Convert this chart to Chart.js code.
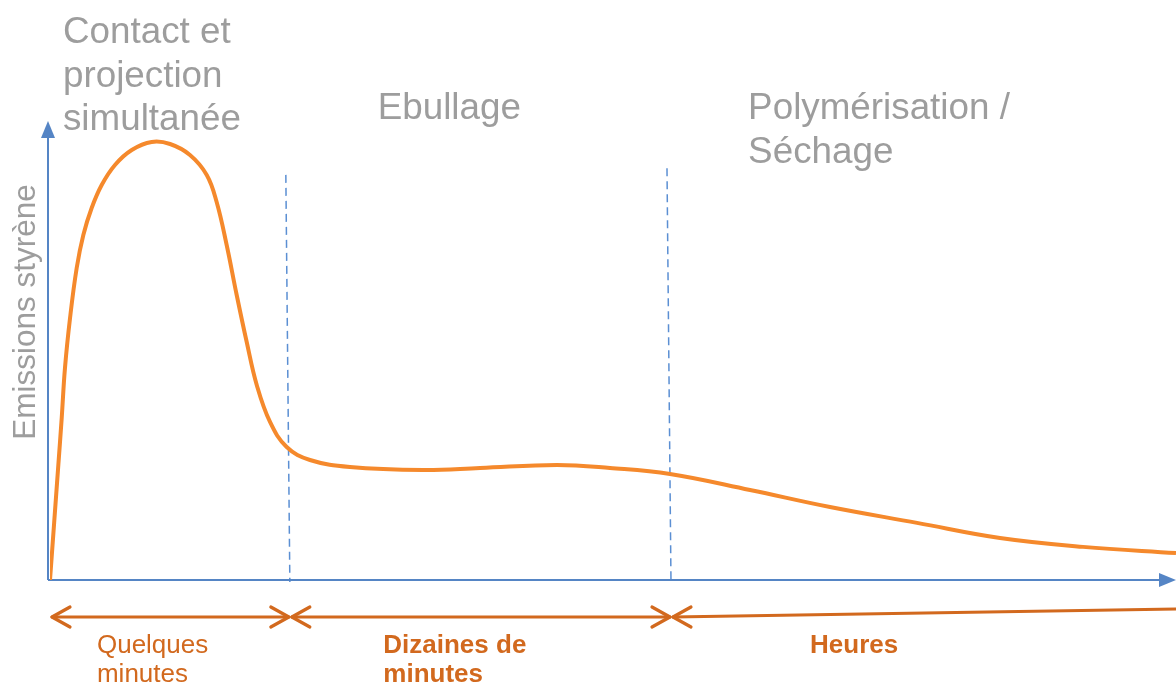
<!DOCTYPE html>
<html lang="fr">
<head>
<meta charset="utf-8">
<title>Emissions styrène</title>
<script src="https://cdn.jsdelivr.net/npm/chart.js@4"></script>
<style>
  html, body { margin: 0; padding: 0; background: #ffffff; }
  #emissionsChart { display: block; }
</style>
</head>
<body>
<canvas id="emissionsChart" width="1176" height="686"></canvas>
<script>
// Temps (unités arbitraires, 0..100) et émissions de styrène (0..100)
const timeValues = [0, 0.74, 1.04, 1.33, 1.78, 2.37, 2.96, 3.70, 4.59, 5.77, 7.26, 9.03, 10.66, 12.43, 13.92, 14.80, 15.69, 16.58, 17.47, 18.36, 19.54, 21.02, 23.09, 26.64, 33.13, 38.19, 45.03, 49.73, 55.06, 62.17, 69.27, 77.0, 84.37, 91.74, 100];
const emissionValues = [0, 23.96, 33.75, 44.17, 54.58, 65.0, 71.88, 77.5, 82.29, 86.46, 89.58, 91.25, 90.83, 88.54, 84.38, 78.75, 69.79, 59.38, 49.58, 40.63, 32.92, 27.71, 25.0, 23.54, 22.92, 23.33, 23.96, 23.33, 22.08, 18.75, 15.2, 11.9, 8.75, 6.9, 5.6];

// Limites des phases et hauteur des pointillés
const phaseBounds = [0, 21.3, 55.15, 100];
const dividerTops = [84.4, 85.8];

const phaseNames = [['Contact et', 'projection', 'simultanée'], ['Ebullage'], ['Polymérisation /', 'Séchage']];
const durationLabels = [['Quelques', 'minutes'], ['Dizaines de', 'minutes'], ['Heures']];
const yAxisTitle = 'Emissions styrène';

const AXIS_BLUE = '#5585c5';
const DASH_BLUE = '#5b8fd3';
const CURVE_ORANGE = '#f5892c';
const DARK_ORANGE = '#d2691e';
const GREY = '#9d9d9d';
const FONT = '"Liberation Sans", Arial, sans-serif';

/**
 * Axes with arrow heads and dashed phase dividers, drawn under the curve.
 */
const axesPlugin = {
    id: 'axesPlugin',
    beforeDatasetsDraw(chart) {
        const { ctx, chartArea, scales } = chart;
        const x0 = chartArea.left - 2;
        const y0 = chartArea.bottom;
        ctx.save();

        // dashed dividers
        ctx.strokeStyle = DASH_BLUE;
        ctx.lineWidth = 1.5;
        ctx.setLineDash([8, 5]);
        phaseBounds.slice(1, 3).forEach((b, i) => {
            const px = scales.x.getPixelForValue(b);
            ctx.beginPath();
            ctx.moveTo(px - 4, scales.y.getPixelForValue(dividerTops[i]));
            ctx.lineTo(px, y0 + 2);
            ctx.stroke();
        });
        ctx.setLineDash([]);

        // axes
        ctx.strokeStyle = AXIS_BLUE;
        ctx.fillStyle = AXIS_BLUE;
        ctx.lineWidth = 2;
        ctx.beginPath();
        ctx.moveTo(x0, y0);
        ctx.lineTo(x0, 136);
        ctx.moveTo(x0, y0);
        ctx.lineTo(chart.width - 14, y0);
        ctx.stroke();

        ctx.beginPath();
        ctx.moveTo(x0, 121);
        ctx.lineTo(x0 - 7, 138);
        ctx.lineTo(x0 + 7, 138);
        ctx.closePath();
        ctx.fill();

        ctx.beginPath();
        ctx.moveTo(chart.width, y0);
        ctx.lineTo(chart.width - 17, y0 - 7);
        ctx.lineTo(chart.width - 17, y0 + 7);
        ctx.closePath();
        ctx.fill();
        ctx.restore();
    }
};

/**
 * Phase titles, axis title and duration arrows.
 */
const labelsPlugin = {
    id: 'labelsPlugin',
    afterDraw(chart) {
        const { ctx, scales } = chart;
        ctx.save();

        // phase titles
        ctx.fillStyle = GREY;
        ctx.font = '36.8px ' + FONT;
        ctx.textBaseline = 'alphabetic';
        const titleX = [1.15, 29.1, 62.0];
        const titleY = [43, 119, 119];
        phaseNames.forEach((lines, i) => {
            lines.forEach((line, j) => {
                ctx.fillText(line, scales.x.getPixelForValue(titleX[i]), titleY[i] + j * 43.5);
            });
        });

        // y axis title
        ctx.save();
        ctx.font = '31.5px ' + FONT;
        ctx.textAlign = 'center';
        ctx.translate(35, 312);
        ctx.rotate(-Math.PI / 2);
        ctx.fillText(yAxisTitle, 0, 0);
        ctx.restore();

        // duration arrows
        ctx.strokeStyle = DARK_ORANGE;
        ctx.lineWidth = 3.2;
        ctx.lineCap = 'round';
        ctx.lineJoin = 'round';
        const ay = 617;
        const head = (tipX, tipY, dir) => {
            ctx.beginPath();
            ctx.moveTo(tipX + dir * 18, tipY - 10);
            ctx.lineTo(tipX, tipY);
            ctx.lineTo(tipX + dir * 18, tipY + 10);
            ctx.stroke();
        };
        for (let i = 0; i < 3; i++) {
            const left = scales.x.getPixelForValue(phaseBounds[i]) + 2;
            const right = i < 2 ? scales.x.getPixelForValue(phaseBounds[i + 1]) - 1 : chart.width;
            const endY = i < 2 ? ay : ay - 8;
            ctx.beginPath();
            ctx.moveTo(left, ay);
            ctx.lineTo(right, endY);
            ctx.stroke();
            head(left, ay, 1);
            if (i < 2) head(right, ay, -1);
        }

        // duration labels
        ctx.fillStyle = DARK_ORANGE;
        const labelX = [4.17, 29.6, 67.5];
        durationLabels.forEach((lines, i) => {
            ctx.font = (i === 0 ? '' : 'bold ') + '26px ' + FONT;
            lines.forEach((line, j) => {
                ctx.fillText(line, scales.x.getPixelForValue(labelX[i]), 653 + j * 29);
            });
        });
        ctx.restore();
    }
};

function renderEmissionsChart() {
    const ctx = document.getElementById('emissionsChart');
    if (!ctx) return;
    new Chart(ctx, {
        type: 'line',
        data: {
            datasets: [{
                label: yAxisTitle,
                data: timeValues.map((t, i) => ({ x: t, y: emissionValues[i] })),
                borderColor: CURVE_ORANGE,
                borderWidth: 4,
                pointRadius: 0,
                fill: false,
                tension: 0.4
            }]
        },
        options: {
            responsive: false,
            animation: false,
            layout: { padding: { left: 50, right: 0, top: 100, bottom: 106 } },
            plugins: {
                legend: { display: false },
                tooltip: { enabled: false }
            },
            scales: {
                x: { type: 'linear', min: 0, max: 100, display: false },
                y: { min: 0, max: 100, display: false }
            }
        },
        plugins: [axesPlugin, labelsPlugin]
    });
}

document.addEventListener('DOMContentLoaded', renderEmissionsChart);
</script>
</body>
</html>
